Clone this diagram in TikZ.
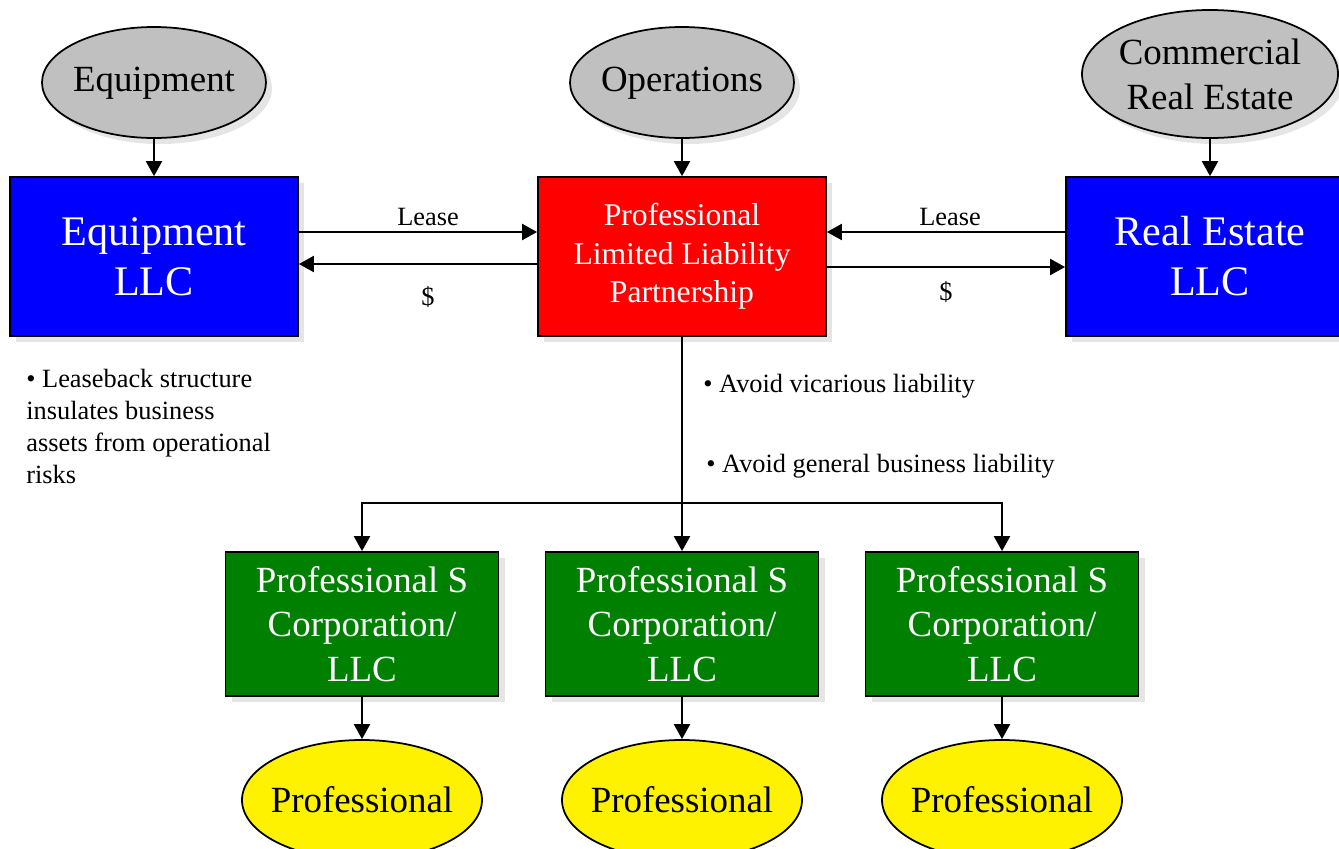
\documentclass[tikz,border=0pt]{standalone}
\usepackage{fontspec}
\setmainfont{Liberation Serif}
\usetikzlibrary{shapes.geometric,arrows.meta,shadows,calc}
\definecolor{pgreen}{RGB}{0,128,0}
\definecolor{pgray}{RGB}{192,192,192}

\begin{document}
\begin{tikzpicture}[
    arr/.style={line width=1.2pt, -{Triangle[length=0.3cm,width=0.32cm]}},
    boxshadow/.style={drop shadow={fill=black!10, opacity=1, shadow xshift=0.12cm, shadow yshift=-0.12cm}},
    orgbox/.style={draw, line width=1pt, rectangle, align=center, text=white, boxshadow},
    oval/.style={draw, line width=1pt, ellipse, align=center, inner xsep=-5pt, inner ysep=0pt},
    big/.style={font=\fontsize{24}{28.5}\selectfont},
    mid/.style={font=\fontsize{21}{25.5}\selectfont},
    small/.style={font=\fontsize{15}{18.2}\selectfont}
]
    \useasboundingbox (0,0) rectangle (26.78,-16.96);

    % Top row
    \node[oval, mid, fill=pgray, boxshadow, minimum width=4.48cm, minimum height=2.22cm] (eqsrc) at (3.08,-1.65) {\strut Equipment};
    \node[oval, mid, fill=pgray, boxshadow, minimum width=4.48cm, minimum height=2.22cm] (opsrc) at (13.64,-1.65) {\strut Operations};
    \node[oval, mid, fill=pgray, boxshadow, minimum width=5.12cm, minimum height=2.56cm] (cresrc) at (24.2,-1.48) {Commercial\\Real Estate};

    % Middle row
    \node[orgbox, big, fill=blue, minimum width=5.76cm, minimum height=3.18cm] (eqllc) at (3.08,-5.13) {Equipment\\LLC};
    \node[orgbox, fill=red, minimum width=5.76cm, minimum height=3.18cm, font=\fontsize{18}{21.9}\selectfont] (plp) at (13.64,-5.13) {Professional\\Limited Liability\\Partnership};
    \node[orgbox, big, fill=blue, minimum width=5.76cm, minimum height=3.18cm] (rellc) at (24.2,-5.13) {Real Estate\\LLC};

    \draw[arr] (eqsrc) -- (eqllc);
    \draw[arr] (opsrc) -- (plp);
    \draw[arr] (cresrc) -- (rellc);

    % Lease and payments
    \draw[arr] ([yshift=0.49cm]eqllc.east) -- ([yshift=0.49cm]plp.west) node[midway, xshift=0.2cm, yshift=0.3cm, small] (leasel) {Lease};
    \draw[arr] ([yshift=-0.15cm]plp.west) -- ([yshift=-0.15cm]eqllc.east) node[midway, xshift=0.2cm, yshift=-0.66cm, small] (payl) {\$};
    \draw[arr] ([yshift=0.49cm]rellc.west) -- ([yshift=0.49cm]plp.east) node[midway, xshift=0.08cm, yshift=0.3cm, small] (leaser) {Lease};
    \draw[arr] ([yshift=-0.21cm]plp.east) -- ([yshift=-0.21cm]rellc.west) node[midway, yshift=-0.5cm, small] (payr) {\$};

    % Notes
    \node[small, anchor=north west, inner sep=0pt, align=left] (leasenote) at (0.52,-7.38) {\textbullet\ Leaseback structure\\insulates business\\assets from operational\\risks};
    \node[small, anchor=west, inner sep=0pt] (vicnote) at (14.06,-7.72) {\textbullet\ Avoid vicarious liability};
    \node[small, anchor=west, inner sep=0pt] (gennote) at (14.12,-9.32) {\textbullet\ Avoid general business liability};

    % Bottom rows
    \foreach \i/\x in {1/7.24, 2/13.64, 3/20.04} {
        \node[orgbox, mid, fill=pgreen, minimum width=5.46cm, minimum height=2.88cm] (corp\i) at (\x,-12.48) {Professional S\\Corporation/\\LLC};
        \node[oval, mid, fill=yellow, minimum width=4.8cm, minimum height=2.4cm] (prof\i) at (\x,-16.0) {Professional};
        \draw[arr] (corp\i) -- (prof\i);
    }

    \coordinate (split) at (13.64,-10.06);
    \draw[line width=1.2pt] (plp) -- (split);
    \foreach \i in {1,2,3} {
        \draw[arr] (split) -| (corp\i.north);
    }
\end{tikzpicture}
\end{document}
